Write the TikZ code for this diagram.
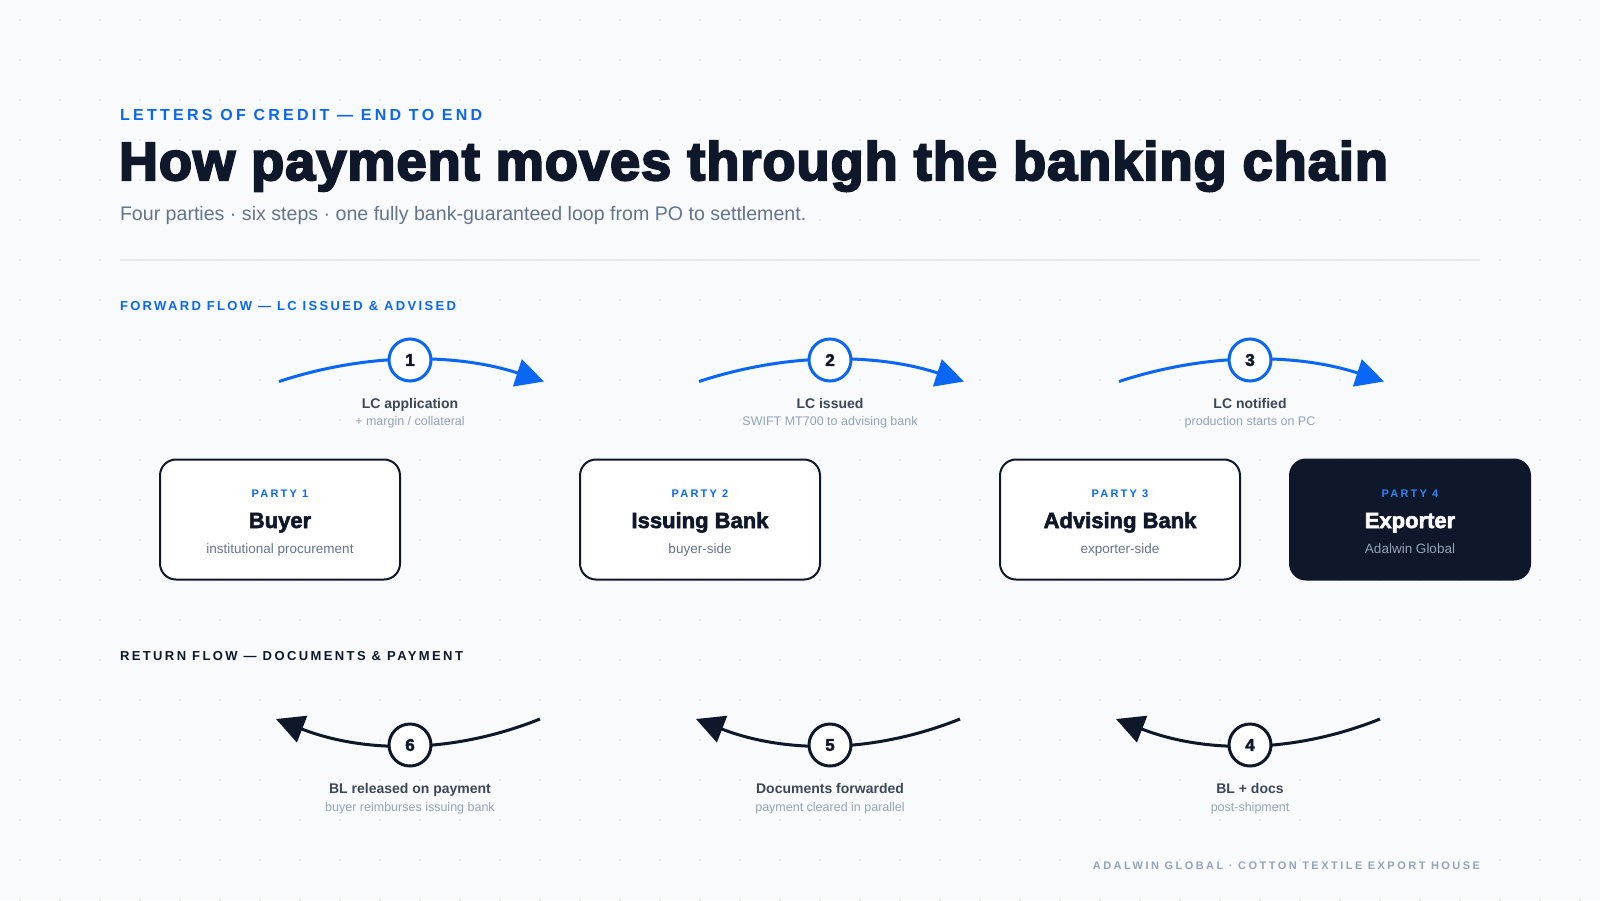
\documentclass[tikz,border=0pt]{standalone}
\usepackage{fontspec}
\setmainfont{Liberation Sans}
\newfontfamily\heavyfont{Liberation Sans}[UprightFont={* Bold}, UprightFeatures={FakeBold=4}]
\newfontfamily\semiheavy{Liberation Sans}[UprightFont={* Bold}, UprightFeatures={FakeBold=2.5}]
\usetikzlibrary{arrows.meta,calc}
\definecolor{bgc}{HTML}{F8FAFC}
\definecolor{dotc}{HTML}{E3E8EF}
\definecolor{brand}{HTML}{0A66F5}
\definecolor{ink}{HTML}{0F172A}
\definecolor{slatet}{HTML}{3E4757}
\definecolor{muted}{HTML}{64748B}
\definecolor{faint}{HTML}{94A3B8}
\definecolor{rulec}{HTML}{E2E8F0}
\definecolor{lightblue}{HTML}{3385F0}
\newcommand{\fsz}[1]{\fontsize{#1}{#1}\selectfont}
\newcommand{\lsp}[1]{\addfontfeatures{LetterSpace=#1}}
\tikzset{
  txt/.style={inner sep=0pt, outer sep=0pt},
  tw/.style={txt, anchor=base west},
  tc/.style={txt, anchor=base},
  te/.style={txt, anchor=base east},
  partybox/.style={draw=ink, line width=2pt, fill=white, rounded corners=16pt,
    minimum width=240pt, minimum height=120pt, inner sep=0pt},
  exportbox/.style={partybox, fill=ink},
  fwdstep/.style={circle, draw=brand, line width=3pt, fill=white, minimum size=42pt,
    inner sep=0pt, font=\semiheavy\fsz{17}, text=ink},
  retstep/.style={fwdstep, draw=ink},
  fwdarc/.style={draw=brand, line width=3pt, -{Triangle[length=28pt,width=28pt]}},
  retarc/.style={draw=ink, line width=3pt, -{Triangle[length=28pt,width=28pt]}},
  steplabel/.style={tc, font=\bfseries\fsz{14}, text=slatet},
  stepsub/.style={tc, font=\fsz{12.5}, text=faint},
  partytag/.style={tc, font=\bfseries\fsz{11}\lsp{20}, text=brand},
  partyname/.style={tc, font=\semiheavy\fsz{22}, text=ink},
  partysub/.style={tc, font=\fsz{13.5}, text=muted},
}
\begin{document}
\begin{tikzpicture}[x=1pt,y=-1pt]
\useasboundingbox (0,0) rectangle (1600,900);
\fill[bgc] (0,0) rectangle (1600,900);
\foreach \i in {0,...,39}{
  \foreach \j in {0,...,22}{
    \fill[dotc] (20+40*\i,20+40*\j) circle (1.3);
  }
}
% header
\node[tw, font=\bfseries\fsz{16}\lsp{20.5}, text=brand] (kicker) at (120,120) {LETTERS OF CREDIT — END TO END};
\node[tw, font=\heavyfont\fsz{54}\lsp{2}, text=ink] (title) at (119,180) {How payment moves through the banking chain};
\node[tw, font=\fsz{19.6}, text=muted] (subtitle) at (120,220) {Four parties · six steps · one fully bank-guaranteed loop from PO to settlement.};
\coordinate (ruleL) at (120,260);
\coordinate (ruleR) at (1480,260);
\draw[rulec, line width=1.3pt] (ruleL) -- (ruleR);

% forward flow
\node[tw, font=\bfseries\fsz{13}\lsp{18}, text=brand] (fwdlabel) at (120,310) {FORWARD FLOW — LC ISSUED \& ADVISED};

\foreach \c/\n/\lab/\sub in {410/1/{LC application}/{+ margin / collateral},
                              830/2/{LC issued}/{SWIFT MT700 to advising bank},
                              1250/3/{LC notified}/{production starts on PC}}{
  \coordinate (fs\n) at (\c-131,381.5);
  \coordinate (fka\n) at (\c-43.7,352.8);
  \coordinate (fkb\n) at (\c+45.3,352.8);
  \coordinate (fe\n) at (\c+134,381.5);
  \draw[fwdarc] (fs\n) .. controls (fka\n) and (fkb\n) .. (fe\n);
  \node[fwdstep] (step\n) at (\c,360) {\n};
  \node[steplabel] (lab\n) at (\c,408) {\lab};
  \node[stepsub] (sub\n) at (\c,425.5) {\sub};
}

% parties
\node[partybox] (buyer) at (280,519.5) {};
\node[partytag] (tag1) at (280,497) {PARTY 1};
\node[partyname] (name1) at (280,528) {Buyer};
\node[partysub] (psub1) at (280,553) {institutional procurement};

\node[partybox] (issuing) at (700,519.5) {};
\node[partytag] (tag2) at (700,497) {PARTY 2};
\node[partyname] (name2) at (700,528) {Issuing Bank};
\node[partysub] (psub2) at (700,553) {buyer-side};

\node[partybox] (advising) at (1120,519.5) {};
\node[partytag] (tag3) at (1120,497) {PARTY 3};
\node[partyname] (name3) at (1120,528) {Advising Bank};
\node[partysub] (psub3) at (1120,553) {exporter-side};

\node[exportbox] (exporter) at (1410,519.5) {};
\node[partytag, text=lightblue] (tag4) at (1410,497) {PARTY 4};
\node[partyname, text=white] (name4) at (1410,528) {Exporter};
\node[partysub, text=faint] (psub4) at (1410,553) {Adalwin Global};

% return flow
\node[tw, font=\bfseries\fsz{13}\lsp{18.5}, text=ink] (retlabel) at (120,660) {RETURN FLOW — DOCUMENTS \& PAYMENT};

\foreach \c/\n/\lab/\sub in {410/6/{BL released on payment}/{buyer reimburses issuing bank},
                              830/5/{Documents forwarded}/{payment cleared in parallel},
                              1250/4/{BL + docs}/{post-shipment}}{
  \coordinate (rs\n) at (\c+130,719);
  \coordinate (rka\n) at (\c+43.3,753.7);
  \coordinate (rkb\n) at (\c-44.7,753.7);
  \coordinate (re\n) at (\c-134,719);
  \draw[retarc] (rs\n) .. controls (rka\n) and (rkb\n) .. (re\n);
  \node[retstep] (step\n) at (\c,745) {\n};
  \node[steplabel] (lab\n) at (\c,793.5) {\lab};
  \node[stepsub] (sub\n) at (\c,811) {\sub};
}

% footer
\node[te, font=\bfseries\fsz{11}\lsp{22.5}, text=faint] (footer) at (1480,869) {ADALWIN GLOBAL · COTTON TEXTILE EXPORT HOUSE};
\end{tikzpicture}
\end{document}
